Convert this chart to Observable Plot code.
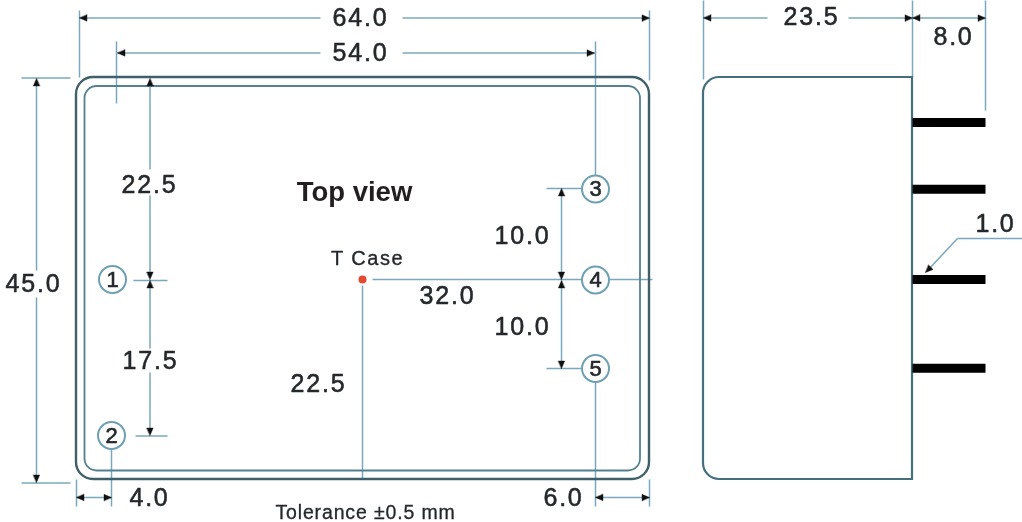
<!DOCTYPE html>
<html>
<head>
<meta charset="utf-8">
<script src="https://cdn.jsdelivr.net/npm/d3@7"></script>
<script src="https://cdn.jsdelivr.net/npm/@observablehq/plot@0.6"></script>
<style>
html,body{margin:0;padding:0;background:#fff}
svg{display:block}
</style>
</head>
<body>
<div id="chart"></div>
<script>
// Drawing values: [x1, y1, x2, y2] in the drawing's own units
const outerCase = [{x1: 76, y1: 77, x2: 649, y2: 479}];
const innerCase = [{x1: 84.5, y1: 86, x2: 640, y2: 470.5}];
const sideBody = [{x1: 703, y1: 77, x2: 912, y2: 479}];
const pinYs = [122, 188.7, 279, 367.7];
const pinSpan = [912, 985];

const dimensionSegments = [
  // 64.0
  [79, 17.5, 320, 17.5], [402, 17.5, 649, 17.5], [79, 10, 79, 77], [649, 10, 649, 80],
  // 54.0
  [117, 52.5, 320, 52.5], [402, 52.5, 594, 52.5], [116, 41, 116, 103], [595, 41, 595, 176],
  // 45.0
  [36, 80, 36, 270], [36, 297, 36, 480], [21, 77.5, 70, 77.5], [21, 482.5, 70, 482.5],
  // 22.5 / 17.5 on the left
  [149.5, 80, 149.5, 169], [149.5, 195, 149.5, 277], [149.5, 282, 149.5, 348], [149.5, 372, 149.5, 433],
  [133, 280, 167, 280], [135, 435.5, 167, 435.5],
  // 4.0
  [76, 497, 111, 497], [76, 479, 76, 506], [111, 449, 111, 506],
  // 6.0
  [595, 497, 649, 497], [595, 382, 595, 506], [649, 479, 649, 506],
  // 10.0 pair on the right
  [561, 190, 561, 278], [561, 281, 561, 366], [546, 188, 581, 188], [546, 368, 581, 368],
  // T Case lines
  [372, 279, 652, 279], [362, 285, 362, 479],
  // 23.5 and 8.0
  [703, 17.5, 767, 17.5], [848, 17.5, 912, 17.5], [912, 17.5, 985, 17.5],
  [703, 0, 703, 79], [912, 0, 912, 77], [985, 0, 985, 110],
  // 1.0 leader
  [1022, 238, 957, 238], [957, 238, 927, 270]
];

const arrowX = [79, 649, 117, 594, 36, 36, 149.5, 149.5, 149.5, 149.5, 561, 561, 561, 561, 76, 111, 595, 649, 703, 912, 912, 985, 925];
const arrowY = [17.5, 17.5, 52.5, 52.5, 78, 482, 78, 279, 280, 435, 188, 279, 280, 368, 497, 497, 497, 497, 17.5, 17.5, 17.5, 17.5, 272];
const arrowAngle = [270, 90, 270, 90, 0, 180, 0, 180, 0, 180, 0, 180, 0, 180, 270, 90, 270, 90, 270, 90, 270, 90, 225];

const pinLabels = ["1", "2", "3", "4", "5"];
const pinX = [112, 111, 595, 595, 595];
const pinY = [279, 435, 188.5, 279.5, 368];

const dimLabels = ["64.0", "54.0", "22.5", "45.0", "17.5", "22.5", "32.0", "10.0", "10.0", "4.0", "6.0", "23.5", "8.0", "1.0"];
const dimX = [360, 360, 149, 33, 150, 318, 447, 522, 522, 149, 563, 811, 953, 995];
const dimY = [17, 52, 184, 283, 360, 383, 295, 235, 326, 497, 497, 16, 36, 223];

const caseTemp = [{x: 362, y: 279}];
const titleText = [{x: 354, y: 192, t: "Top view"}];
const caseLabel = [{x: 367, y: 258, t: "T Case"}];
const toleranceLabel = [{x: 365, y: 512, t: "Tolerance \u00b10.5 mm"}];

const arrowHead = {
  draw(ctx) {
    ctx.moveTo(0, 0);
    ctx.lineTo(-3.2, 7.5);
    ctx.lineTo(3.2, 7.5);
    ctx.closePath();
  }
};

const font = "Liberation Sans, Arial, sans-serif";
const ink = "#24282b";
const thin = "#7aa8bd";

const chart = Plot.plot({
  width: 1022,
  height: 522,
  margin: 0,
  x: {domain: [0, 1022], range: [0, 1022], axis: null},
  y: {domain: [0, 522], range: [0, 522], axis: null},
  style: {background: "#fff", filter: "blur(0.55px)"},
  marks: [
    Plot.link(dimensionSegments, {
      x1: d => d[0], y1: d => d[1], x2: d => d[2], y2: d => d[3],
      stroke: thin, strokeWidth: 1.5
    }),
    Plot.rect(outerCase, {
      x1: "x1", x2: "x2", y1: "y1", y2: "y2", r: 17,
      fill: "none", stroke: "#3f5f6a", strokeWidth: 2.4
    }),
    Plot.rect(innerCase, {
      x1: "x1", x2: "x2", y1: "y1", y2: "y2", r: 12,
      fill: "none", stroke: "#55808f", strokeWidth: 1.8
    }),
    Plot.rect(sideBody, {
      x1: "x1", x2: "x2", y1: "y1", y2: "y2", rx1: 16,
      fill: "none", stroke: "#44707d", strokeWidth: 2.2
    }),
    Plot.link(pinYs, {
      x1: () => pinSpan[0], x2: () => pinSpan[1], y1: d => d, y2: d => d,
      stroke: "#000", strokeWidth: 9, strokeLinecap: "butt"
    }),
    Plot.vector(arrowX.map((x, i) => i), {
      x: i => arrowX[i], y: i => arrowY[i], rotate: i => arrowAngle[i],
      length: 8, anchor: "start", shape: arrowHead,
      fill: "#111", stroke: "#111", strokeWidth: 0.4
    }),
    Plot.dot(pinLabels, {
      x: (d, i) => pinX[i], y: (d, i) => pinY[i], r: 13.5,
      fill: "#fff", stroke: "#6e9fb3", strokeWidth: 2
    }),
    Plot.text(pinLabels, {
      x: (d, i) => pinX[i], y: (d, i) => pinY[i], text: d => d,
      fontFamily: font, fontSize: 22, fill: ink, stroke: ink, strokeWidth: 0.6
    }),
    Plot.dot(caseTemp, {x: "x", y: "y", r: 4, fill: "#e2492f"}),
    Plot.text(dimLabels, {
      x: (d, i) => dimX[i], y: (d, i) => dimY[i], text: d => d,
      fontFamily: font, fontSize: 25, fill: ink, stroke: ink, strokeWidth: 0.55
    }),
    Plot.text(titleText, {
      x: "x", y: "y", text: "t",
      fontFamily: font, fontSize: 27.5, fontWeight: "bold", fill: "#231f20"
    }),
    Plot.text(caseLabel, {
      x: "x", y: "y", text: "t",
      fontFamily: font, fontSize: 20, fill: ink, stroke: ink, strokeWidth: 0.35
    }),
    Plot.text(toleranceLabel, {
      x: "x", y: "y", text: "t",
      fontFamily: font, fontSize: 19.5, fill: ink, stroke: ink, strokeWidth: 0.3
    })
  ]
});
const spacingBySize = {25: "1.8px", 20: "1.5px", 19.5: "0.85px"};
chart.querySelectorAll("text").forEach(t => {
  const fs = parseFloat(t.getAttribute("font-size") || t.parentNode.getAttribute("font-size"));
  if (spacingBySize[fs]) t.style.letterSpacing = spacingBySize[fs];
});
document.getElementById("chart").append(chart);
</script>
</body>
</html>
